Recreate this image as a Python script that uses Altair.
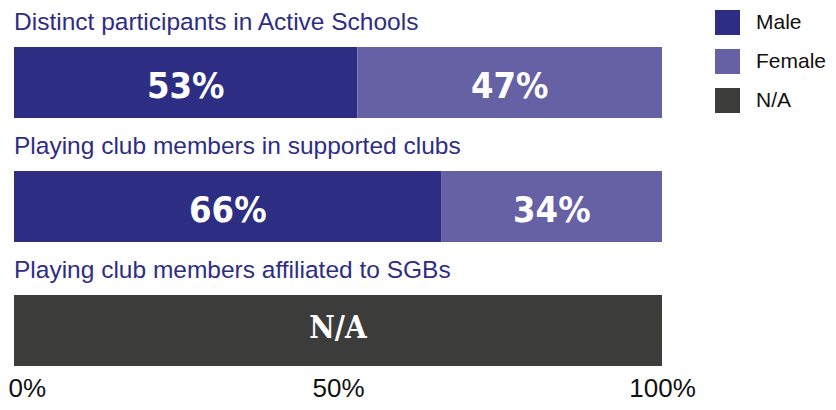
import altair as alt
import pandas as pd

categories = [
    "Distinct participants in Active Schools",
    "Playing club members in supported clubs",
    "Playing club members affiliated to SGBs",
]
groups = ["Male", "Female", "N/A"]
male_pct = [53, 66, None]
female_pct = [47, 34, None]
na_pct = [None, None, 100]
colors = ["#2D2E83", "#6660A5", "#3C3C3B"]
tick_values = [0, 50, 100]

rows = []
for i, cat in enumerate(categories):
    start = 0
    for g, series in zip(groups, [male_pct, female_pct, na_pct]):
        v = series[i]
        if v is None:
            continue
        rows.append(dict(category=cat, group=g, start=start, end=start + v,
                         mid=start + v / 2,
                         label=("N/A" if g == "N/A" else f"{v}%")))
        start += v
df = pd.DataFrame(rows)
titles = pd.DataFrame({"category": categories, "x0": [0] * len(categories)})

yscale = alt.Scale(domain=categories, paddingInner=0.4274, paddingOuter=0.1935, align=0.8125)
xscale = alt.Scale(domain=[0, 100], nice=False)

x_axis = alt.Axis(
    values=tick_values, labelExpr="datum.value + '%'", title=None,
    domain=False, ticks=False, tickSize=0, grid=False, labelFlush=False,
    labelFont="Liberation Sans", labelFontSize=26, labelColor="#111111",
    labelBaseline="alphabetic", labelPadding=21,
    labelAlign={"condition": {"test": "datum.value === 0", "value": "left"}, "value": "center"},
    labelOffset={"condition": {"test": "datum.value === 0", "value": -6}, "value": 0},
)

bars = alt.Chart(df).mark_bar().encode(
    x=alt.X("start:Q", scale=xscale, axis=x_axis),
    x2="end:Q",
    y=alt.Y("category:N", scale=yscale, axis=None, sort=categories),
    color=alt.Color("group:N", scale=alt.Scale(domain=groups, range=colors),
                    legend=alt.Legend(title=None, orient="none", legendX=701, legendY=2,
                                      symbolType="square", symbolSize=625, symbolStrokeWidth=0,
                                      symbolOpacity=1, labelFont="Liberation Sans",
                                      labelFontSize=21, labelColor="#111111",
                                      rowPadding=14, labelOffset=16, padding=0)),
)

pct_text = alt.Chart(df).transform_filter("datum.group !== 'N/A'").mark_text(
    font="DejaVu Sans Condensed, Open Sans", fontWeight="bold", fontSize=36,
    color="white", baseline="alphabetic", align="center", dy=16,
).encode(
    x=alt.X("mid:Q", title=None),
    y=alt.Y("category:N", sort=categories),
    text="label:N",
)

na_text = alt.Chart(df).transform_filter("datum.group === 'N/A'").mark_text(
    font="DejaVu Serif Condensed, DejaVu Serif", fontWeight="bold", fontSize=31,
    color="white", baseline="alphabetic", align="center", dy=8,
).encode(
    x=alt.X("mid:Q", title=None),
    y=alt.Y("category:N", sort=categories),
    text="label:N",
)

title_text = alt.Chart(titles).mark_text(
    font="Liberation Sans", fontSize=24.5, color="#2E2D84",
    baseline="alphabetic", align="left", dy=-52.5,
).encode(
    x=alt.X("x0:Q", title=None),
    y=alt.Y("category:N", sort=categories),
    text="category:N",
)

chart = alt.layer(bars, pct_text, na_text, title_text).properties(
    width=648, height=367,
    padding={"left": 6, "top": 0, "right": 166, "bottom": 27},
    autosize=alt.AutoSizeParams(type="none"),
).configure_view(stroke=None)

chart.save("out.html", embed_options={"renderer": "svg", "actions": False})
